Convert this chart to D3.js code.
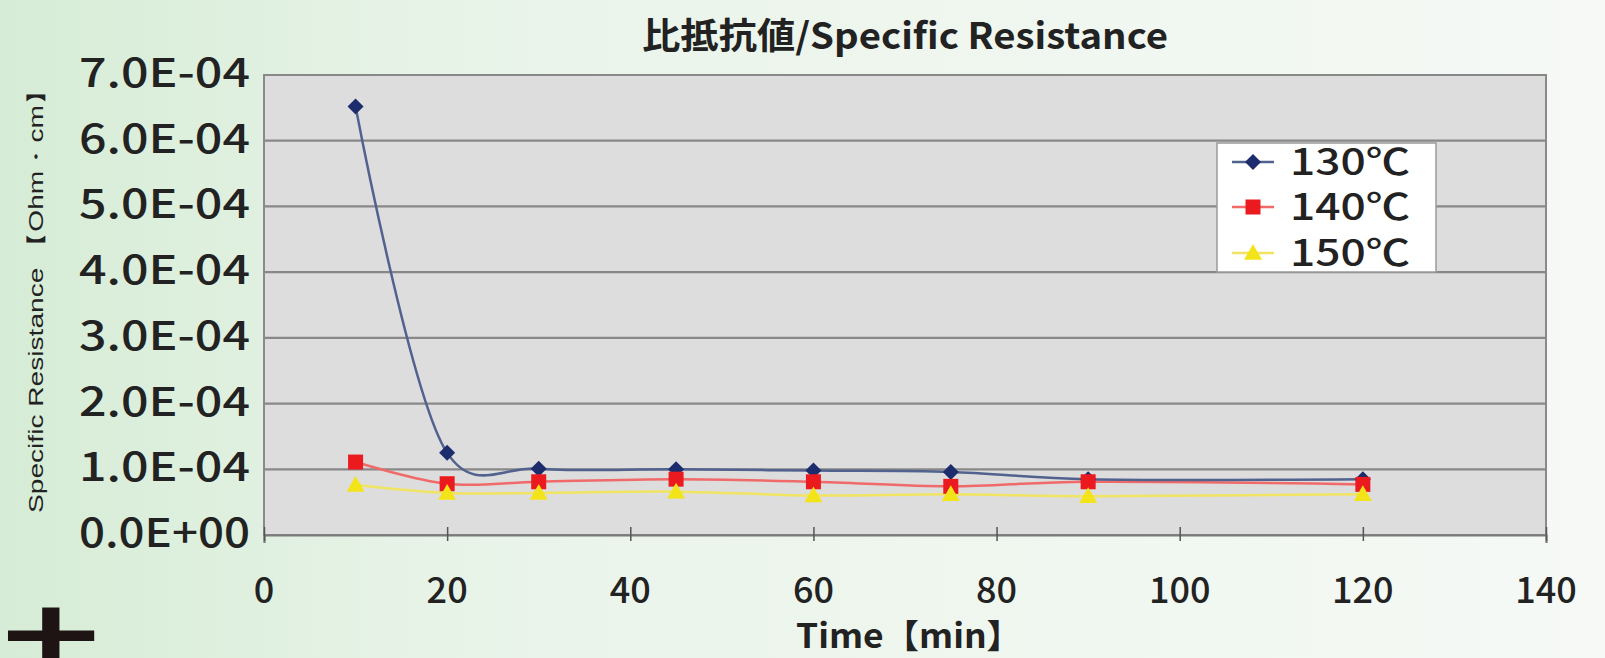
<!DOCTYPE html>
<html>
<head>
<meta charset="utf-8">
<script src="https://cdn.jsdelivr.net/npm/d3@7/dist/d3.min.js"></script>
<style>
html,body{margin:0;padding:0;overflow:hidden;}
svg{display:block;}
</style>
</head>
<body>
<svg id="chart" width="1605" height="658"></svg>
<script>
// ---- data ----
const times = [10, 20, 30, 45, 60, 75, 90, 120];
const r130 = [6.52e-4, 1.25e-4, 1.01e-4, 1.0e-4, 0.98e-4, 0.96e-4, 0.85e-4, 0.85e-4];
const r140 = [1.11e-4, 0.78e-4, 0.81e-4, 0.85e-4, 0.81e-4, 0.74e-4, 0.81e-4, 0.77e-4];
const r150 = [0.76e-4, 0.64e-4, 0.64e-4, 0.66e-4, 0.60e-4, 0.62e-4, 0.59e-4, 0.62e-4];
const seriesNames = ["130℃", "140℃", "150℃"];
const xTicks = [0, 20, 40, 60, 80, 100, 120, 140];
const yTicks = [0, 1e-4, 2e-4, 3e-4, 4e-4, 5e-4, 6e-4, 7e-4];
const titleText = "比抵抗値/Specific Resistance";
const xTitleText = "Time【min】";
const yTitleText = "Specific Resistance 【Ohm・cm】";

const series = [
  {name: seriesNames[0], values: r130, marker: "diamond", fill: "#1c2c6c", line: "#52628f"},
  {name: seriesNames[1], values: r140, marker: "square", fill: "#ea1a1f", line: "#f06a6a"},
  {name: seriesNames[2], values: r150, marker: "triangle", fill: "#f3e41a", line: "#f0e462"}
];

const svg = d3.select("#chart");
const W = 1605, H = 658;
const plot = {left: 264, right: 1546, top: 75, bottom: 535};

// background gradient
const defs = svg.append("defs");
const grad = defs.append("linearGradient").attr("id", "bg").attr("x1", "0").attr("x2", "1").attr("y1", "0").attr("y2", "0");
grad.append("stop").attr("offset", "0").attr("stop-color", "#d6ecd6");
grad.append("stop").attr("offset", "0.3").attr("stop-color", "#e9f4e9");
grad.append("stop").attr("offset", "1").attr("stop-color", "#f6f9f6");
svg.append("rect").attr("width", W).attr("height", H).attr("fill", "url(#bg)");

const FONT = "'Noto Sans CJK JP','Noto Sans',sans-serif";

// decorative cropped glyph bottom-left
svg.append("text").attr("transform", "translate(-4,671) scale(1,0.67)").attr("font-family", FONT)
  .attr("font-weight", 900).attr("font-size", 110).attr("fill", "#1e1414").text("土");

const x = d3.scaleLinear().domain([0, 140]).range([plot.left, plot.right]);
const y = d3.scaleLinear().domain([0, 7e-4]).range([plot.bottom, plot.top]);

// plot area
svg.append("rect").attr("x", plot.left).attr("y", plot.top)
  .attr("width", plot.right - plot.left).attr("height", plot.bottom - plot.top)
  .attr("fill", "#dddddd").attr("stroke", "#8a8a8a").attr("stroke-width", 2);

// gridlines
svg.append("g").selectAll("line").data(yTicks).join("line")
  .attr("x1", plot.left).attr("x2", plot.right)
  .attr("y1", d => y(d)).attr("y2", d => y(d))
  .attr("stroke", "#888888").attr("stroke-width", 2.2);

// x axis with crossing ticks
const xAxis = d3.axisBottom(x).tickValues(xTicks).tickSize(8).tickFormat("");
const xg = svg.append("g").attr("transform", `translate(0,${plot.bottom})`).call(xAxis);
xg.select(".domain").attr("stroke", "#7a7a7a").attr("stroke-width", 2.2);
xg.selectAll(".tick line").attr("stroke", "#555").attr("stroke-width", 1.5).attr("y1", -8).attr("y2", 6);

// x tick labels
svg.append("g").selectAll("text").data(xTicks).join("text")
  .attr("x", d => x(d)).attr("y", 603)
  .attr("text-anchor", "middle").attr("font-family", FONT).attr("font-weight", 500)
  .attr("font-size", 36).attr("fill", "#222").text(d => d);

// y tick labels
function fmtE(v) {
  if (v === 0) return "0.0E+00";
  const e = Math.floor(Math.log10(v) + 1e-9);
  const m = v / Math.pow(10, e);
  const sign = e < 0 ? "-" : "+";
  return m.toFixed(1) + "E" + sign + String(Math.abs(e)).padStart(2, "0");
}
svg.append("g").selectAll("text").data(yTicks).join("text")
  .attr("x", 250).attr("y", d => y(d) + 12)
  .attr("text-anchor", "end").attr("font-family", FONT).attr("font-weight", 500)
  .attr("font-size", 40).attr("fill", "#222")
  .attr("textLength", 171).attr("lengthAdjust", "spacingAndGlyphs")
  .text(d => fmtE(d));

// title
svg.append("text").attr("x", 905).attr("y", 49).attr("text-anchor", "middle")
  .attr("font-family", FONT).attr("font-weight", 700).attr("font-size", 36).attr("fill", "#222")
  .attr("textLength", 526).attr("lengthAdjust", "spacingAndGlyphs").text(titleText);

// x title
svg.append("text").attr("x", 909).attr("y", 648).attr("text-anchor", "middle")
  .attr("font-family", FONT).attr("font-weight", 700).attr("font-size", 33).attr("fill", "#222")
  .attr("textLength", 226).attr("lengthAdjust", "spacingAndGlyphs").text(xTitleText);

// y title
svg.append("text").attr("transform", "translate(43,295) rotate(-90)").attr("text-anchor", "middle")
  .attr("font-family", "'Liberation Sans',Arial,sans-serif").attr("font-size", 20).attr("fill", "#222")
  .attr("textLength", 436).attr("lengthAdjust", "spacingAndGlyphs").text(yTitleText);

function drawMarker(g, type, fill, cx, cy) {
  if (type === "diamond") {
    const r = 8;
    g.append("path").attr("d", `M${cx},${cy - r}L${cx + r},${cy}L${cx},${cy + r}L${cx - r},${cy}Z`).attr("fill", fill);
  } else if (type === "square") {
    g.append("rect").attr("x", cx - 7.5).attr("y", cy - 7.5).attr("width", 15).attr("height", 15).attr("fill", fill);
  } else {
    const r = 9;
    g.append("path").attr("d", `M${cx},${cy - r}L${cx + r},${cy + r * 0.75}L${cx - r},${cy + r * 0.75}Z`).attr("fill", fill);
  }
}

const line = d3.line().x(d => x(d[0])).y(d => y(d[1])).curve(d3.curveCatmullRom.alpha(0.2));
// draw lines (back to front: 150, 140, 130)
const linesG = svg.append("g");
series.slice().reverse().forEach(s => {
  linesG.append("path").datum(times.map((t, i) => [t, s.values[i]]))
    .attr("d", line).attr("fill", "none").attr("stroke", s.line).attr("stroke-width", 2.5);
});
const marksG = svg.append("g");
series.forEach(s => {
  times.forEach((t, i) => drawMarker(marksG, s.marker, s.fill, x(t), y(s.values[i])));
});

// legend
const lg = svg.append("g");
lg.append("rect").attr("x", 1217).attr("y", 143).attr("width", 219).attr("height", 129)
  .attr("fill", "#ffffff").attr("stroke", "#9a9a9a").attr("stroke-width", 1.5);
const rowY = [162, 207, 253];
series.forEach((s, i) => {
  lg.append("line").attr("x1", 1232).attr("x2", 1274).attr("y1", rowY[i]).attr("y2", rowY[i])
    .attr("stroke", s.line).attr("stroke-width", 2.5);
  drawMarker(lg, s.marker, s.fill, 1253, rowY[i]);
  lg.append("text").attr("x", 1290).attr("y", rowY[i] + 13)
    .attr("font-family", FONT).attr("font-weight", 500).attr("font-size", 36).attr("fill", "#222")
    .attr("textLength", 120).attr("lengthAdjust", "spacingAndGlyphs").text(s.name);
});
</script>
</body>
</html>
